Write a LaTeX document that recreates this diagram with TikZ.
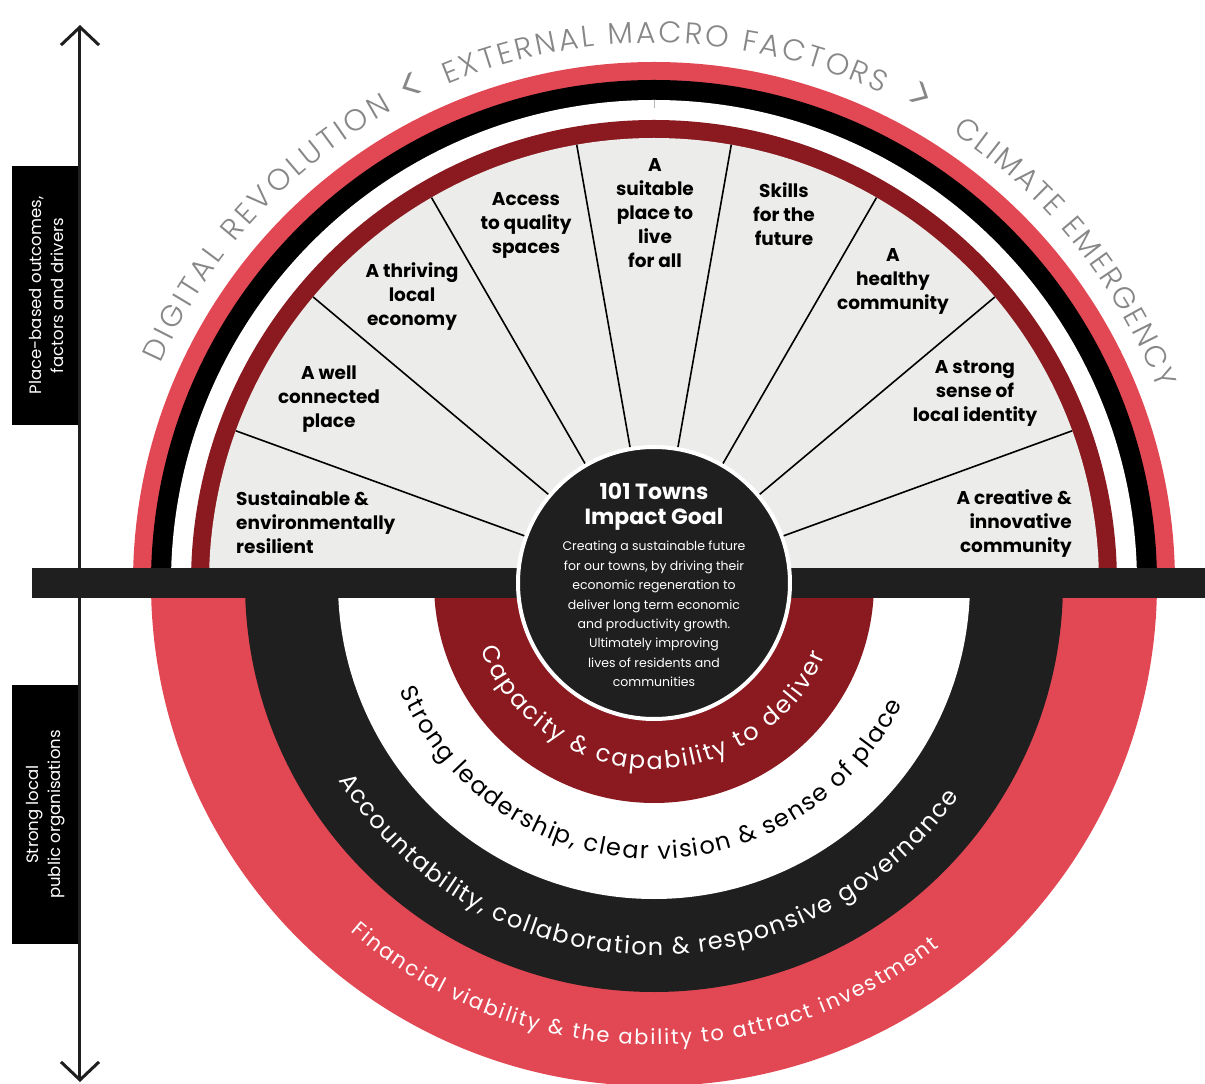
\documentclass[tikz,border=0pt]{standalone}
\usepackage{fontspec}
\setmainfont{Poppins}
\IfFontExistsTF{Poppins Light}
  {\newfontfamily\lightfont{Poppins Light}}
  {\newfontfamily\lightfont{Poppins}}
\usetikzlibrary{arrows.meta, decorations.text, positioning}

\definecolor{ringred}{RGB}{226,72,84}
\definecolor{darkred}{RGB}{138,26,32}
\definecolor{nearblack}{RGB}{31,31,31}
\definecolor{sectorgray}{RGB}{236,236,234}
\definecolor{macrogray}{RGB}{135,135,135}

\newcommand\macrofont{\lightfont\fontsize{30}{30}\selectfont}
\newcommand\bandfont{\fontsize{24}{24}\selectfont}
\newcommand\smallbandfont{\fontsize{21}{21}\selectfont}

\begin{document}
\begin{tikzpicture}[x=1pt, y=1pt,
    outcome/.style={font=\bfseries\fontsize{18.5}{24}\selectfont, align=center, inner sep=0pt},
    spoke/.style={line width=1.6pt, black},
    sidebox/.style={fill=black, text=white, rotate=90, minimum width=259pt,
      minimum height=68pt, inner sep=0pt, align=center,
      font=\fontsize{16.5}{22}\selectfont},
    goalcircle/.style={circle, fill=nearblack, draw=white, line width=4pt,
      minimum size=272pt, inner sep=0pt},
    axisline/.style={line width=3pt, nearblack,
      {Straight Barb[length=18pt, width=38pt]}-{Straight Barb[length=18pt, width=38pt]}}]
    \useasboundingbox (-654,-501) rectangle (551,583);

    % Upper rings and sectors
    \foreach \r/\c in {521/ringred, 503/black, 483/white, 463/darkred, 445/sectorgray}
      \fill[\c] (0:\r) arc[start angle=0, end angle=180, radius=\r] -- cycle;
    \draw[macrogray!60, line width=0.8pt] (90:475) -- (90:483);

    % Lower bands
    \foreach \r/\c in {503/ringred, 409/nearblack, 316/white, 220/darkred}
      \fill[\c] (180:\r) arc[start angle=180, end angle=360, radius=\r] -- cycle;

    % Divider bar
    \fill[nearblack] (-622,-15) rectangle (551,15);

    % Impact goal
    \node[goalcircle] (goal) at (0,0) {};
    \foreach \a in {20,40,...,160} {
      \coordinate (rim\a) at (\a:445);
      \draw[spoke] (goal.\a) -- (rim\a);
    }
    \node[font=\bfseries\fontsize{22}{25}\selectfont, text=white, align=center]
      (goaltitle) at (0,76) {101 Towns\\Impact Goal};
    \node[font=\fontsize{12.5}{19.4}\selectfont, text=white, align=center]
      (goalbody) at (0,-31) {Creating a sustainable future\\for our towns, by driving their\\economic regeneration to\\deliver long term economic\\and productivity growth.\\Ultimately improving\\lives of residents and\\communities};

    % Outcomes
    \node[outcome, align=left, anchor=west] (sustain) at (-418,61) {Sustainable \&\\environmentally\\resilient};
    \node[outcome] (wellconn) at (-325,184) {A well\\connected\\place};
    \node[outcome] (thriving) at (-242,286) {A thriving\\local\\economy};
    \node[outcome] (access) at (-128,358) {Access\\to quality\\spaces};
    \node[outcome] (suitable) at (1,370) {A\\suitable\\place to\\live\\for all};
    \node[outcome] (skills) at (130,369) {Skills\\for the\\future};
    \node[outcome] (healthy) at (239,302) {A\\healthy\\community};
    \node[outcome] (identity) at (321,190) {A strong\\sense of\\local identity};
    \node[outcome, align=right, anchor=east] (creative) at (418,59) {A creative \&\\innovative\\community};

    % External macro factors
    \path[decorate, decoration={text along path, text align=fit to path, text color=macrogray,
        text={|\macrofont|DIGITAL REVOLUTION}}]
      (156:540) arc[start angle=156, end angle=119, radius=540];
    \path[decorate, decoration={text along path, text align=fit to path, text color=macrogray,
        text={|\macrofont|EXTERNAL MACRO FACTORS}}]
      (112.5:540) arc[start angle=112.5, end angle=65, radius=540];
    \path[decorate, decoration={text along path, text align=fit to path, text color=macrogray,
        text={|\macrofont|CLIMATE EMERGENCY}}]
      (56.5:540) arc[start angle=56.5, end angle=21, radius=540];
    \node[font=\macrofont, text=macrogray, rotate=26, scale=1.6] (lt) at (116:551) {<};
    \node[font=\macrofont, text=macrogray, rotate=-28.7, scale=1.6] (gt) at (61.3:553) {>};

    % Band texts
    \path[decorate, decoration={text along path, text align=fit to path, text color=white,
        text={|\bandfont|Capacity {\&} capability to deliver}}]
      (201:186) arc[start angle=201, end angle=337, radius=186];
    \path[decorate, decoration={text along path, text align=fit to path, text color=black,
        text={|\bandfont|Strong leadership, clear vision {\&} sense of place}}]
      (203:276) arc[start angle=203, end angle=334, radius=276];
    \path[decorate, decoration={text along path, text align=fit to path, text color=white,
        text={|\bandfont|Accountability, collaboration {\&} responsive governance}}]
      (212:372) arc[start angle=212, end angle=325, radius=372];
    \path[decorate, decoration={text along path, text align=fit to path, text color=white,
        text={|\smallbandfont|Financial viability {\&} the ability to attract investment}}]
      (229:462) arc[start angle=229, end angle=308, radius=462];

    % Side axis
    \node[sidebox] (placebox) at (-608,287.5) {Place-based outcomes,\\factors and drivers};
    \node[sidebox] (orgbox) at (-608,-231.5) {Strong local\\public organisations};
    \coordinate (axtop) at (-574,558);
    \coordinate (axbot) at (-574,-499);
    \draw[axisline] (axtop) -- (axbot);
\end{tikzpicture}
\end{document}
